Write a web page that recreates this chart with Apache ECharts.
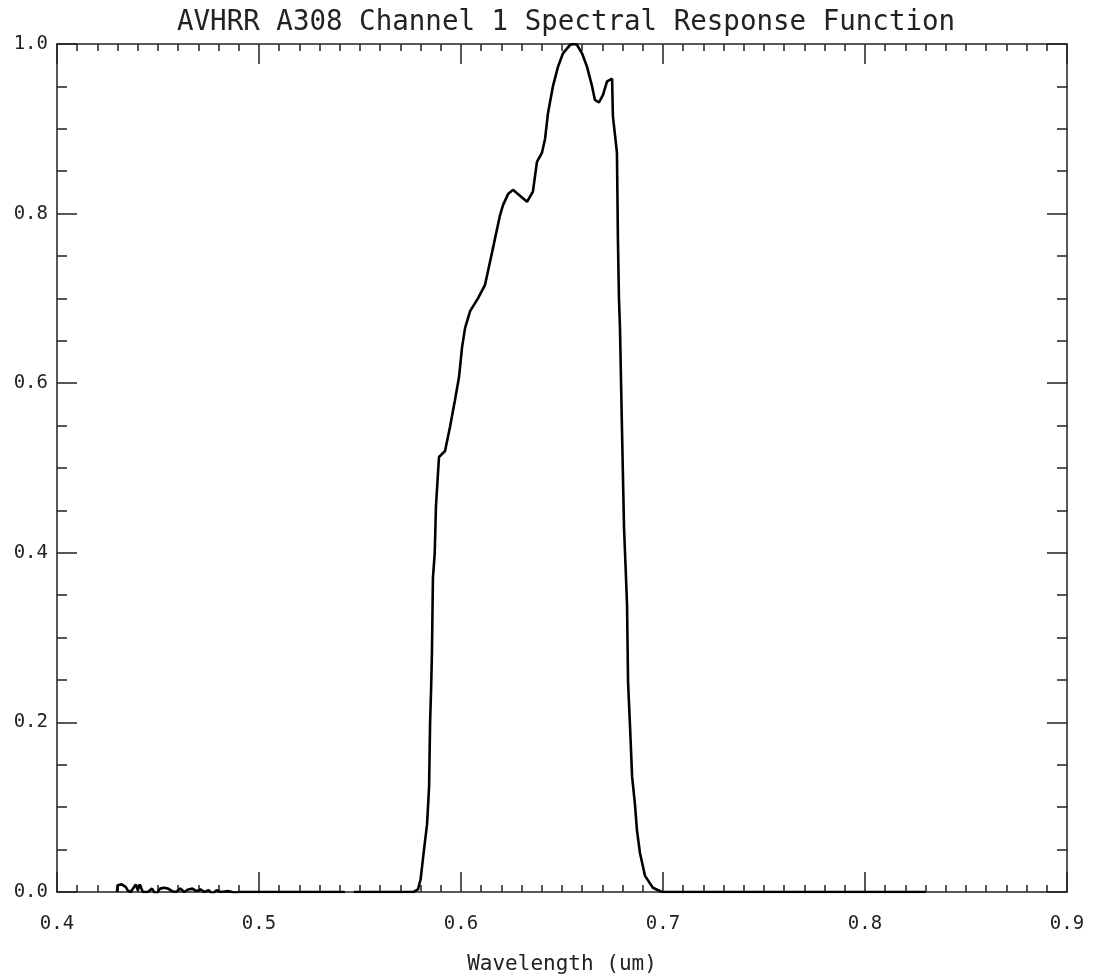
<!DOCTYPE html>
<html>
<head>
<meta charset="utf-8">
<script src="https://cdn.jsdelivr.net/npm/echarts@6/dist/echarts.min.js"></script>
<style>
html,body{margin:0;padding:0;background:#fff;}
#chart{width:1094px;height:980px;}
</style>
</head>
<body>
<div id="chart"></div>
<script>
const titleText = "AVHRR A308 Channel 1 Spectral Response Function";
const xAxisName = "Wavelength (um)";
const xTicks = [0.4, 0.5, 0.6, 0.7, 0.8, 0.9];
const yTicks = [0.0, 0.2, 0.4, 0.6, 0.8, 1.0];

// wavelength (um)
const wavelength = [
  0.4297, 0.4300, 0.4320, 0.4340, 0.4350, 0.4365, 0.4390, 0.4400, 0.4410, 0.4425,
  0.4450, 0.4470, 0.4490, 0.4510, 0.4530, 0.4550, 0.4570, 0.4590, 0.4610, 0.4630,
  0.4650, 0.4670, 0.4690, 0.4710, 0.4730, 0.4750, 0.4770, 0.4790, 0.4810, 0.4850,
  0.4880, 0.4900, 0.5000, 0.5200, 0.5425, 0.5435, 0.5470, 0.5600, 0.5700, 0.5765,
  0.5787, 0.5800, 0.5812, 0.5822, 0.5832, 0.5842, 0.5847, 0.5852, 0.5856, 0.5861,
  0.5870, 0.5876, 0.5891, 0.5921, 0.5946, 0.5970, 0.5990, 0.6005, 0.6020, 0.6045,
  0.6084, 0.6119, 0.6129, 0.6158, 0.6193, 0.6208, 0.6233, 0.6257, 0.6292, 0.6327,
  0.6356, 0.6376, 0.6401, 0.6416, 0.6431, 0.6455, 0.6480, 0.6505, 0.6540, 0.6560,
  0.6574, 0.6599, 0.6624, 0.6649, 0.6663, 0.6683, 0.6703, 0.6723, 0.6748, 0.6752,
  0.6772, 0.6777, 0.6782, 0.6787, 0.6797, 0.6807, 0.6817, 0.6822, 0.6827, 0.6837,
  0.6847, 0.6861, 0.6871, 0.6886, 0.6911, 0.6950, 0.6995, 0.7500, 0.8300
];
// relative response (null = gap in the record)
const response = [
  0.000, 0.008, 0.009, 0.006, 0.002, 0.000, 0.009, 0.002, 0.009, 0.000,
  0.000, 0.004, -0.003, 0.004, 0.005, 0.004, 0.001, 0.000, 0.004, 0.000,
  0.003, 0.004, 0.001, 0.003, 0.000, 0.002, -0.002, 0.002, 0.000, 0.001,
  -0.001, 0.000, 0.000, 0.000, 0.000, null, 0.000, 0.000, 0.000, 0.000,
  0.003, 0.015, 0.040, 0.060, 0.080, 0.124, 0.200, 0.240, 0.280, 0.370,
  0.400, 0.455, 0.513, 0.520, 0.549, 0.580, 0.607, 0.642, 0.665, 0.685,
  0.700, 0.716, 0.727, 0.759, 0.798, 0.810, 0.823, 0.828, 0.821, 0.814,
  0.826, 0.861, 0.872, 0.888, 0.919, 0.950, 0.973, 0.989, 0.999, 1.000,
  0.999, 0.989, 0.973, 0.950, 0.934, 0.931, 0.940, 0.956, 0.959, 0.915,
  0.872, 0.767, 0.700, 0.665, 0.545, 0.430, 0.370, 0.338, 0.248, 0.194,
  0.136, 0.104, 0.073, 0.046, 0.019, 0.005, 0.000, 0.000, 0.000
];

const seriesData = wavelength.map((w, i) => [w, response[i]]);
const FONT = "DejaVu Sans Mono";
const AXC = "#222";

const chart = echarts.init(document.getElementById('chart'), null, {renderer: 'canvas'});

function xAx(pos, showLabel) {
  return {
    type: 'value', position: pos, min: xTicks[0], max: xTicks[xTicks.length - 1], interval: 0.1,
    name: showLabel ? xAxisName : '', nameLocation: 'middle', nameGap: 62,
    nameTextStyle: {fontFamily: FONT, fontSize: 21, color: AXC},
    axisLine: {show: true, onZero: false, lineStyle: {color: AXC, width: 1.5}},
    axisTick: {show: true, inside: true, length: 20, lineStyle: {color: AXC, width: 1.5}},
    minorTick: {show: true, splitNumber: 10, length: 7, lineStyle: {color: AXC, width: 1.5}},
    splitLine: {show: false},
    axisLabel: {show: showLabel, margin: 23, fontFamily: FONT, fontSize: 19, color: AXC,
      formatter: v => v.toFixed(1)}
  };
}
function yAx(pos, showLabel) {
  return {
    type: 'value', position: pos, min: yTicks[0], max: yTicks[yTicks.length - 1], interval: 0.2,
    axisLine: {show: true, onZero: false, lineStyle: {color: AXC, width: 1.5}},
    axisTick: {show: true, inside: true, length: 20, lineStyle: {color: AXC, width: 1.5}},
    minorTick: {show: true, splitNumber: 4, length: 10, lineStyle: {color: AXC, width: 1.5}},
    splitLine: {show: false},
    axisLabel: {show: showLabel, margin: 9, fontFamily: FONT, fontSize: 19, color: AXC,
      formatter: v => v.toFixed(1)}
  };
}

chart.setOption({
  animation: false,
  backgroundColor: '#fff',
  title: {
    text: titleText, left: 172, top: 4,
    textStyle: {fontFamily: FONT, fontSize: 27.5, fontWeight: 'normal', color: AXC}
  },
  grid: {left: 57, top: 44, width: 1010, height: 855, containLabel: false},
  xAxis: [xAx('bottom', true), xAx('top', false)],
  yAxis: [yAx('left', true), yAx('right', false)],
  series: [{
    type: 'line', xAxisIndex: 0, yAxisIndex: 0,
    data: seriesData, showSymbol: false, connectNulls: false,
    lineStyle: {color: '#000', width: 2.6},
    clip: true
  }]
});
</script>
</body>
</html>
